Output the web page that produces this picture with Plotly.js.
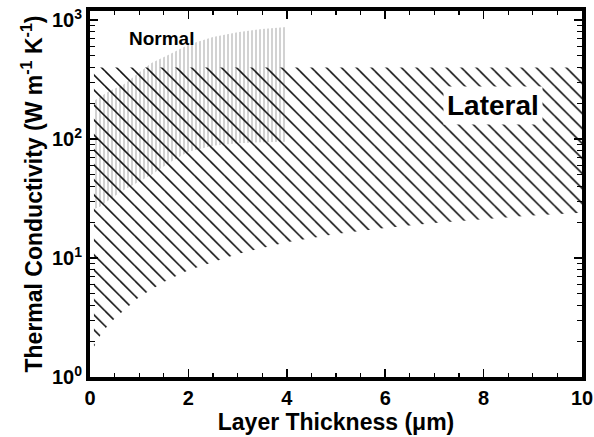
<!DOCTYPE html>
<html>
<head>
<meta charset="utf-8">
<script src="https://cdn.plot.ly/plotly-3.0.1.min.js"></script>
<style>html,body{margin:0;padding:0;background:#fff;}#chart{width:594px;height:437px;}</style>
</head>
<body>
<div id="chart"></div>
<script>
// Lateral thermal conductivity band
const lateralX     = [0.08, 0.25, 0.5, 1, 1.5, 2, 3, 4, 5, 6, 7, 8, 9, 10];
const lateralLower = [1.8, 2.4, 3.1, 4.7, 6.3, 7.9, 10.8, 13.6, 15.9, 17.9, 19.7, 21.3, 22.8, 24];
const lateralUpper = [400, 400, 400, 400, 400, 400, 400, 400, 400, 400, 400, 400, 400, 400];

// Normal thermal conductivity band
const normalX     = [0.1, 0.2, 0.4, 0.67, 1.0, 1.25, 1.6, 2.0, 2.5, 3.0, 3.5, 4.0];
const normalLower = [26, 27, 31, 37, 44, 50, 63, 78, 88, 92, 94, 95];
const normalUpper = [212, 225, 255, 284, 360, 435, 510, 620, 720, 790, 840, 874];

const xTickVals = [0, 2, 4, 6, 8, 10];
const yTickVals = [1, 10, 100, 1000];
const yTickText = ['10<sup>0</sup>', '10<sup>1</sup>', '10<sup>2</sup>', '10<sup>3</sup>'];
const yMinorVals = [2,3,4,5,6,7,8,9,20,30,40,50,60,70,80,90,200,300,400,500,600,700,800,900];

const FONT = 'Liberation Sans, Arial, sans-serif';
const noLine = {width: 0, color: 'rgba(0,0,0,0)'};

const traces = [
  {x: normalX, y: normalLower, mode: 'lines', line: noLine, showlegend: false, hoverinfo: 'skip'},
  {x: normalX, y: normalUpper, mode: 'lines', line: noLine, showlegend: false, hoverinfo: 'skip',
   fill: 'tonexty', fillcolor: 'rgba(0,0,0,0)',
   fillpattern: {shape: '|', size: 4, solidity: 0.3, fgcolor: '#b4b4b4', bgcolor: 'rgba(0,0,0,0)', fillmode: 'replace'}},
  {x: lateralX, y: lateralLower, mode: 'lines', line: noLine, showlegend: false, hoverinfo: 'skip'},
  {x: lateralX, y: lateralUpper, mode: 'lines', line: noLine, showlegend: false, hoverinfo: 'skip',
   fill: 'tonexty', fillcolor: 'rgba(0,0,0,0)',
   fillpattern: {shape: '\\', size: 10.6, solidity: 0.15, fgcolor: '#111', bgcolor: 'rgba(0,0,0,0)', fillmode: 'replace'}}
];

const axisCommon = {
  showgrid: false, zeroline: false,
  showline: true, linewidth: 4, linecolor: '#000', mirror: 'ticks',
  ticks: 'inside', ticklen: 8, tickwidth: 1.5, tickcolor: '#000',
  tickfont: {family: FONT, size: 20, color: '#000', weight: 'bold'}
};

const layout = {
  width: 594, height: 437,
  margin: {l: 90, r: 12, t: 11, b: 60},
  paper_bgcolor: '#fff', plot_bgcolor: '#fff',
  showlegend: false,
  xaxis: Object.assign({}, axisCommon, {
    range: [0, 10], tickmode: 'array', tickvals: xTickVals,
    minor: {dtick: 0.5, ticks: 'inside', ticklen: 4, tickwidth: 1.2, tickcolor: '#000'},
    title: {text: 'Layer Thickness (\u03bcm)', font: {family: FONT, size: 23, color: '#000', weight: 'bold'}, standoff: 6}
  }),
  yaxis: Object.assign({}, axisCommon, {
    type: 'log', range: [0, 3.076], tickmode: 'array', tickvals: yTickVals, ticktext: yTickText,
    minor: {tickmode: 'array', tickvals: yMinorVals, ticks: 'inside', ticklen: 5, tickwidth: 1.2, tickcolor: '#000'},
    title: {text: 'Thermal Conductivity (W m<sup>-1</sup> K<sup>-1</sup>)', font: {family: FONT, size: 23, color: '#000', weight: 'bold'}, standoff: 4}
  }),
  annotations: [
    {x: 1.45, y: Math.log10(700), xref: 'x', yref: 'y', text: 'Normal', showarrow: false,
     font: {family: FONT, size: 19, color: '#000', weight: 'bold'}},
    {x: 8.2, y: Math.log10(190), xref: 'x', yref: 'y', text: 'Lateral', showarrow: false,
     bgcolor: '#fff', borderpad: 3,
     font: {family: FONT, size: 28, color: '#000', weight: 'bold'}}
  ]
};

Plotly.newPlot('chart', traces, layout, {staticPlot: true, displayModeBar: false});
</script>
</body>
</html>
